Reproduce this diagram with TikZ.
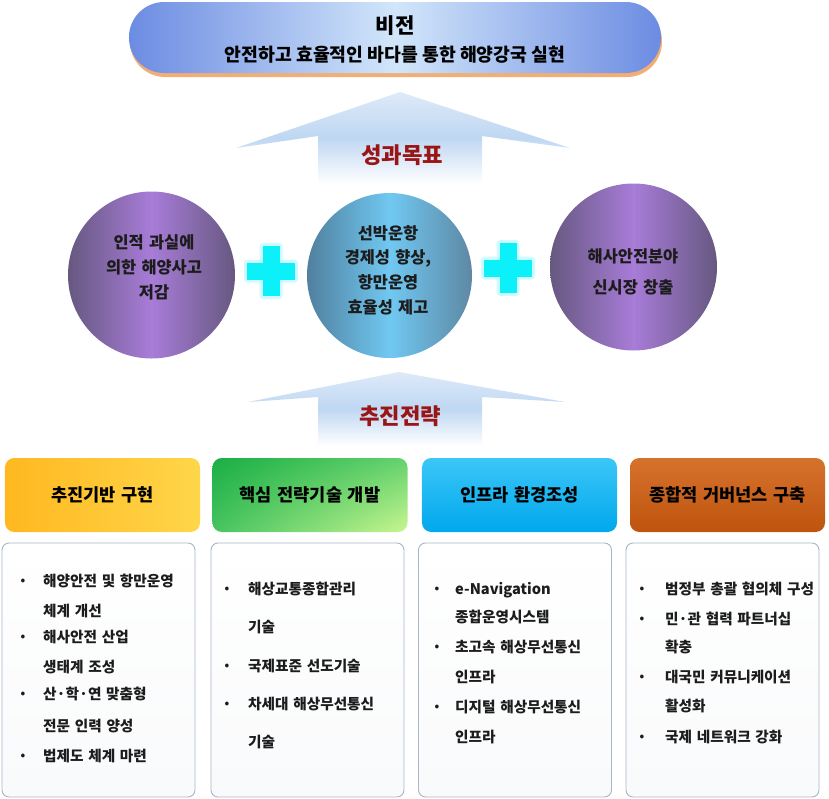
\documentclass[tikz,border=0pt]{standalone}
\usepackage{fontspec}
\usetikzlibrary{shadings}
\setmainfont{Noto Sans CJK KR}
\newfontfamily\boxfont[WordSpace=2]{Noto Sans CJK KR}
\newfontfamily\circfont[WordSpace=1.4]{Noto Sans CJK KR}
\definecolor{bannerEdge}{HTML}{6C8CE2}
\definecolor{bannerMid}{HTML}{D2E6FA}
\definecolor{bannerShadow}{HTML}{F2AE74}
\definecolor{arrowBlue}{HTML}{B4D0F0}
\definecolor{purpEdge}{HTML}{665880}
\definecolor{purpMid}{HTML}{A87CD8}
\definecolor{blueEdgeL}{HTML}{50809E}
\definecolor{blueMid}{HTML}{70C8F2}
\definecolor{blueEdgeR}{HTML}{5E88A4}
\definecolor{plusCyan}{HTML}{0CF0FA}
\definecolor{plusGlow}{HTML}{B8FAFF}
\definecolor{goalRed}{HTML}{9A1616}
\definecolor{txt}{HTML}{1C1C1C}
\definecolor{boxLine}{HTML}{A8B6C6}
\definecolor{yelL}{HTML}{FFB820}
\definecolor{yelR}{HTML}{FFD64A}
\definecolor{grnUL}{HTML}{1AAE44}
\definecolor{grnUR}{HTML}{64D26E}
\definecolor{grnLL}{HTML}{46C460}
\definecolor{grnLR}{HTML}{C8F690}
\definecolor{cyaT}{HTML}{3CC6F8}
\definecolor{cyaB}{HTML}{00A8EC}
\definecolor{brnT}{HTML}{D6722C}
\definecolor{brnB}{HTML}{BE540E}
\begin{document}
\begin{tikzpicture}[x=0.03cm,y=-0.03cm,
  hdr/.style={rectangle, rounded corners=8pt, minimum width=5.85cm, minimum height=2.22cm,
    inner sep=0pt, font=\boxfont\bfseries\fontsize{15pt}{18pt}\selectfont, text=black},
  cbox/.style={rectangle, rounded corners=6pt, minimum width=5.79cm, minimum height=7.62cm,
    draw=boxLine, line width=0.8pt, top color=white, bottom color=white!93!boxLine},
  ctext/.style={anchor=west, inner sep=0pt, text=txt, text height=9.5pt, text depth=1.5pt,
    font=\boxfont\bfseries\fontsize{12.5pt}{15pt}\selectfont},
  bul/.style={inner sep=0pt, text=txt, font=\bfseries\fontsize{10pt}{11pt}\selectfont},
  circtext/.style={align=center, inner sep=0pt, text=txt},
  goal/.style={inner sep=0pt, text=goalRed, font=\bfseries\fontsize{19pt}{22pt}\selectfont},
]
\useasboundingbox (0,0) rectangle (829,798);

% ---- Vision banner
\node[rectangle, rounded corners=30pt, minimum width=15.96cm, minimum height=2.13cm, fill=bannerShadow, inner sep=0pt] (bannershadow) at (396,41.5) {};
\node[rectangle, rounded corners=30pt, minimum width=15.96cm, minimum height=2.13cm, inner sep=0pt,
  left color=bannerEdge, right color=bannerEdge, middle color=bannerMid] (banner) at (395,37.5) {};
\node[inner sep=0pt, text=black, font=\bfseries\fontsize{18pt}{20pt}\selectfont] (vtitle) at (395,26) {비전};
\node[inner sep=0pt, text=black, font=\bfseries\fontsize{15.6pt}{18pt}\selectfont] (vtext) at (395,55) {안전하고 효율적인 바다를 통한 해양강국 실현};

% ---- upward arrow 1
\shade[top color=arrowBlue!45, bottom color=white, middle color=arrowBlue!85]
  (400,92) -- (570,148) -- (482,136) -- (482,184) -- (318,184) -- (318,136) -- (236,148) -- cycle;
\node[goal] (goal1) at (402,155.5) {성과목표};

% ---- circles
\node[circle, minimum size=5.01cm, inner sep=0pt, left color=purpEdge, right color=purpEdge, middle color=purpMid] (cleft) at (151.5,275) {};
\node[circle, minimum size=4.95cm, inner sep=0pt, left color=blueEdgeL, right color=blueEdgeR, middle color=blueMid] (cmid) at (389.5,275.5) {};
\node[circle, minimum size=5.01cm, inner sep=0pt, left color=purpEdge, right color=purpEdge, middle color=purpMid] (cright) at (633.5,267) {};

\node[circtext, font=\circfont\bfseries\fontsize{14pt}{21.3pt}\selectfont] (tleft) at (154,267) {인적 과실에\\의한 해양사고\\저감};
\node[circtext, font=\circfont\bfseries\fontsize{14pt}{21pt}\selectfont] (tmid) at (388,270) {선박운항\\경제성 향상,\\항만운영\\효율성 제고};
\node[circtext, font=\circfont\bfseries\fontsize{14pt}{26.5pt}\selectfont] (tright) at (633,272) {해사안전분야\\신시장 창출};

% ---- plus signs
\foreach \cx/\cy in {271/271, 508/268}{
  \fill[plusGlow, opacity=0.7, rounded corners=3pt] (\cx-27,\cy-11.5) rectangle (\cx+27,\cy+11.5);
  \fill[plusGlow, opacity=0.7, rounded corners=3pt] (\cx-11.5,\cy-28) rectangle (\cx+11.5,\cy+28);
  \fill[plusCyan] (\cx-24,\cy-8.5) rectangle (\cx+24,\cy+8.5);
  \fill[plusCyan] (\cx-8.5,\cy-25) rectangle (\cx+8.5,\cy+25);
}

% ---- upward arrow 2
\shade[top color=arrowBlue!45, bottom color=white, middle color=arrowBlue!85]
  (399,372) -- (565,402) -- (482,397) -- (482,446) -- (318,446) -- (318,397) -- (248,402) -- cycle;
\node[goal] (goal2) at (400,416) {추진전략};

% ---- strategy headers
\node[hdr, left color=yelL, right color=yelR] (h1) at (102.5,495) {추진기반 구현};
\node[hdr, upper left=grnUL, lower right=grnLR, upper right=grnUR, lower left=grnLL] (h2) at (310,495) {핵심 전략기술 개발};
\node[hdr, top color=cyaT, bottom color=cyaB] (h3) at (519.5,495) {인프라 환경조성};
\node[hdr, top color=brnT, bottom color=brnB] (h4) at (727.5,495) {종합적 거버넌스 구축};

% ---- content boxes
\node[cbox] (b1) at (98.5,670) {};
\node[cbox] (b2) at (307.5,670) {};
\node[cbox] (b3) at (515,670) {};
\node[cbox] (b4) at (722.5,670) {};

% bullets
\foreach \n/\x/\y in {p11/23/582, p12/23/638, p13/23/695, p14/23/757,
                      p21/227/590, p22/227/667, p23/227/705,
                      p31/437/590, p32/437/648, p33/437/708,
                      p41/642/590, p42/642/620, p43/642/678, p44/642/738}
  \node[bul] (\n) at (\x,\y) {•};

% texts
\foreach \n/\x/\y/\t in {
  a1/43/582/해양안전 및 항만운영, a2/43/612/체계 개선, a3/43/638/해사안전 산업,
  a4/43/668/생태계 조성, a5/43/695/산·학·연 맞춤형, a6/43/727/전문 인력 양성,
  a7/43/757/법제도 체계 마련,
  c1/248/590/해상교통종합관리, c2/248/628/기술, c3/248/667/국제표준 선도기술,
  c4/248/705/차세대 해상무선통신, c5/248/743/기술,
  d1/455/590/e-Navigation, d2/455/618/종합운영시스템, d3/455/648/초고속 해상무선통신,
  d4/455/678/인프라, d5/455/708/디지털 해상무선통신, d6/455/738/인프라,
  e1/665/590/범정부 총괄 협의체 구성, e2/665/620/민·관 협력 파트너십, e3/665/648/확충,
  e4/665/678/대국민 커뮤니케이션, e5/665/707/활성화, e6/665/738/국제 네트워크 강화}
  \node[ctext] (\n) at (\x,\y) {\t};
\end{tikzpicture}
\end{document}
